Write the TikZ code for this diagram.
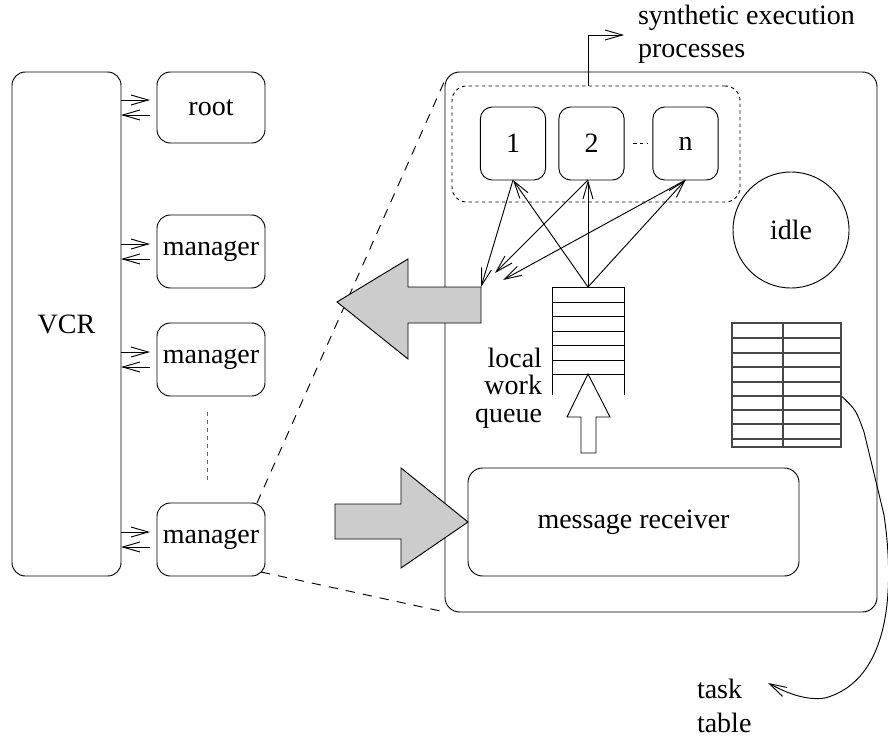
\documentclass[tikz,border=0pt]{standalone}
\usepackage{fontspec}
\setmainfont{Liberation Serif}
\usetikzlibrary{arrows.meta,calc}

% a pair of opposite links between the VCR column and a box on its right
\newcommand\vcrlink[1]{%
  \draw[->] ($(vcr.east |- #1.west)+(0,-7.5)$) -- ($(#1.west)+(-7,-7.5)$);
  \draw[->] ($(#1.west)+(-7,7.5)$) -- ($(vcr.east |- #1.west)+(0,7.5)$);}

\begin{document}
\begin{tikzpicture}[x=0.75pt,y=-0.75pt,
  font=\fontsize{21}{24}\selectfont,
  line width=0.7pt,
  >={Straight Barb[length=13pt,width=7.5pt]},
  box/.style={draw,rounded corners=10pt,inner sep=0pt,outer sep=0pt},
  procbox/.style={box,rounded corners=9pt,minimum width=49pt,minimum height=54.75pt},
  mgrbox/.style={box,minimum width=81pt,minimum height=54.75pt},
  bigarrow/.style={draw,fill=black!20,line join=miter},
  fine dash/.style={dash pattern=on 2.5pt off 2.5pt},
  long dash/.style={dash pattern=on 7pt off 6pt},
  label/.style={inner sep=0pt,outer sep=0pt},
  grid line/.style={line width=0.9pt,draw=black!72}]

\useasboundingbox (0,0) rectangle (888,738);

% left column: VCR and its root / manager processes
\node[box,minimum width=81.75pt,minimum height=378pt] (vcr) at (66.5,324) {VCR};
\node[box,minimum width=81pt,minimum height=53.25pt] (root) at (211,107.5) {root};
\node[mgrbox] (mgrA) at (211,251.5) {manager};
\node[mgrbox] (mgrB) at (211,359.5) {manager};
\node[mgrbox] (mgrC) at (211,539.5) {manager};

\vcrlink{root}
\vcrlink{mgrA}
\vcrlink{mgrB}
\vcrlink{mgrC}

\draw[black!60,dash pattern=on 3pt off 3pt] ($(mgrB.south)+(-4,16)$) -- ($(mgrC.north)+(-4,-21)$);

% enlarged manager
\node[box,rounded corners=11pt,minimum width=324pt,minimum height=405pt] (host) at (661,342) {};

\draw[long dash] ($(mgrC.north east)+(-8,0)$) -- ($(host.north west)+(0,8)$);
\draw[long dash] ($(mgrC.south east)+(-4,-4)$) -- (host.south west);

% synthetic execution processes
\node[draw,fine dash,rounded corners=11pt,inner sep=0pt,minimum width=216pt,minimum height=87pt] (group) at (596,144) {};
\node[procbox] (p1) at (513,143.5) {1};
\node[procbox] (p2) at (591.5,143.5) {2};
\node[procbox] (pn) at (685.5,143.5) {n};
\draw[fine dash] ($(p2.east)+(9,0)$) -- ($(pn.west)+(-5,0)$);

\node[label,anchor=west,align=left,font=\fontsize{21}{24.75}\selectfont] (synth) at (638,34)
  {synthetic execution\\processes};
\draw[->] ($(group.north)+(-8,0)$) |- ($(synth.west)+(-14,1)$);

\node[draw,circle,inner sep=0pt,minimum size=87pt] (idle) at (791,230) {idle};

% local work queue
\coordinate (qtop) at (588,287);
\draw (552,395) -- (552,287) -- (624,287) -- (624,395);
\foreach \y in {302,316.5,331,345.5,360,374} \draw (552,\y) -- (624,\y);
\draw[fill=white,line join=miter] (588,374) -- (610,417) -- (596,417) -- (596,453)
  -- (581,453) -- (581,417) -- (567,417) -- cycle;
\node[label,anchor=east,align=right,font=\fontsize{21}{20.6}\selectfont] (qlabel) at (542,388)
  {local\\work\\queue};

% outgoing work (to the left)
\draw[bigarrow] (481,287) -- (408,287) -- (408,259) -- (337,302) -- (408,359)
  -- (408,323) -- (481,323) -- cycle;
\coordinate (outA) at (481,287);
\coordinate (outB) at (495,273);
\coordinate (outC) at (503,280);

\draw[->] (qtop) -- (p1.south);
\draw[->] (qtop) -- (qtop |- p2.south);
\draw[->] (qtop) -- (pn.south);
\draw[->] (p1.south) -- (outA);
\draw[->] (qtop |- p2.south) -- (outB);
\draw[->] (pn.south) -- (outC);

% message receiver and incoming messages
\node[box,rounded corners=11pt,minimum width=248.25pt,minimum height=81pt] (recv) at (633.5,522) {message receiver};
\draw[bigarrow] (recv.west) -- (401,568) -- (401,539) -- (335,539) -- (335,504)
  -- (401,504) -- (401,468) -- cycle;

% task table
\draw[grid line] (732,323) rectangle (841,447);
\foreach \y in {338,353,367,382,396,410,424,439} \draw[grid line] (732,\y) -- (841,\y);
\draw[grid line] (783,323) -- (783,447);
\coordinate (tblR) at (842,396.5);

\node[label,anchor=west,align=left,font=\fontsize{21}{26}\selectfont] (tlabel) at (697,706) {task\\table};
\coordinate (ttip) at (768,683);
\draw[->] (tblR) .. controls (856,410) .. (864,432) -- (884,515)
  .. controls (895,590) and (890,680) .. (825,698)
  .. controls (805,701) and (785,692) .. (ttip);

\end{tikzpicture}
\end{document}
